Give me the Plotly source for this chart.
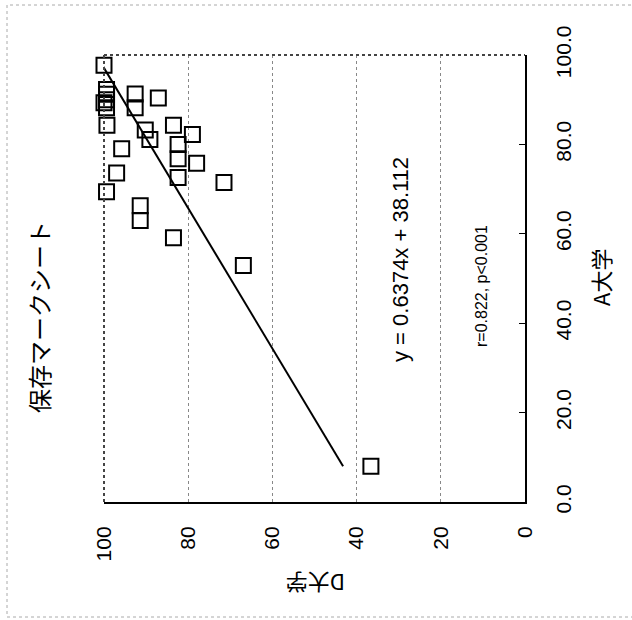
import plotly.graph_objects as go

# Data: A大学 (x in original chart) vs D大学 (y in original chart)
a_univ = [97.7, 92.3, 91.2, 90.0, 88.2, 89.3, 91.3, 88.2, 90.4, 84.3, 84.3, 83.2, 81.1, 82.2,
          80.0, 76.8, 79.0, 75.8, 73.6, 72.6, 71.5, 69.4, 66.3, 63.0, 59.1, 52.9, 8.0]
d_univ = [100.0, 99.4, 99.4, 99.4, 99.4, 100.0, 92.6, 92.6, 87.1, 99.3, 83.5, 90.2, 89.1, 79.0,
          82.4, 82.4, 95.8, 78.0, 97.0, 82.4, 71.5, 99.4, 91.4, 91.4, 83.5, 66.9, 36.6]
slope = 0.6374
intercept = 38.112
d_ticks = [0, 20, 40, 60, 80, 100]
a_ticks = [0, 20, 40, 60, 80, 100]
a_ticklabels = ["0.0", "20.0", "40.0", "60.0", "80.0", "100.0"]
d_ticklabels = ["0", "20", "40", "60", "80", "100"]

W, H = 632, 620
L, R, T, B = 104, 107, 55, 118
PW, PH = W - L - R, H - T - B

def px(x):
    return (x - L) / PW

def py(y):
    return (H - B - y) / PH

FONT = "Liberation Sans, Arial, Noto Sans CJK JP"
JP = "Noto Sans CJK JP"

# Chart is rotated 90° CCW: horizontal axis = D大学 (reversed), vertical axis = A大学 (right side)
a_min, a_max = min(a_univ), max(a_univ)
line_a = [a_min, a_max]
line_d = [slope * a + intercept for a in line_a]

fig = go.Figure()
fig.add_trace(go.Scatter(
    x=line_d, y=line_a, mode="lines", cliponaxis=False,
    line=dict(color="black", width=2), hoverinfo="skip", showlegend=False))
fig.add_trace(go.Scatter(
    x=d_univ, y=a_univ, mode="markers", cliponaxis=False,
    marker=dict(symbol="square-open", size=15, color="black", line=dict(width=2, color="black")),
    showlegend=False))

def ann(text, x, y, angle, size, family):
    return dict(text=text, x=px(x), y=py(y), xref="paper", yref="paper",
                xanchor="center", yanchor="middle", showarrow=False,
                textangle=angle, font=dict(size=size, family=family))

fig.update_layout(
    width=W, height=H,
    margin=dict(l=L, r=R, t=T, b=B),
    paper_bgcolor="white", plot_bgcolor="white",
    font=dict(family=FONT, color="black"),
    xaxis=dict(
        range=[100, 0], tickvals=d_ticks, ticktext=d_ticklabels, tickangle=-90,
        tickfont=dict(size=21, family=FONT), showgrid=True, gridcolor="#888888",
        griddash="dot", gridwidth=1, zeroline=False, showline=True, linecolor="black",
        linewidth=2, ticks="", ticklabelstandoff=14),
    yaxis=dict(
        range=[0, 100], side="right", tickvals=a_ticks, ticktext=a_ticklabels, tickangle=-90,
        tickfont=dict(size=21, family=FONT), showgrid=False, zeroline=False, showline=True,
        linecolor="black", linewidth=2, ticks="inside", ticklen=6, tickcolor="black",
        ticklabelstandoff=19),
    shapes=[
        dict(type="line", xref="paper", yref="paper", x0=0, x1=1, y0=1, y1=1,
             line=dict(color="#444444", width=2, dash="dot")),
        dict(type="line", xref="paper", yref="paper", x0=0, x1=0, y0=0, y1=1,
             line=dict(color="#444444", width=2, dash="dot")),
        dict(type="rect", xref="paper", yref="paper", x0=px(7), x1=px(640), y0=py(617), y1=py(5),
             line=dict(color="#aaaaaa", width=1, dash="dot")),
    ],
    annotations=[
        ann("保存マークシート", 38, 317, -90, 24, JP),
        ann("y = 0.6374x + 38.112", 400, 260, -90, 22, FONT),
        ann("r=0.822, p<0.001", 481, 286, -90, 16, FONT),
        ann("D大学", 316, 584, 180, 22, JP),
        ann("A大学", 600, 278, -90, 22, JP),
    ],
)

fig.write_html("out.html", config={"displayModeBar": False},
               post_script="document.body.style.margin='0px';")
